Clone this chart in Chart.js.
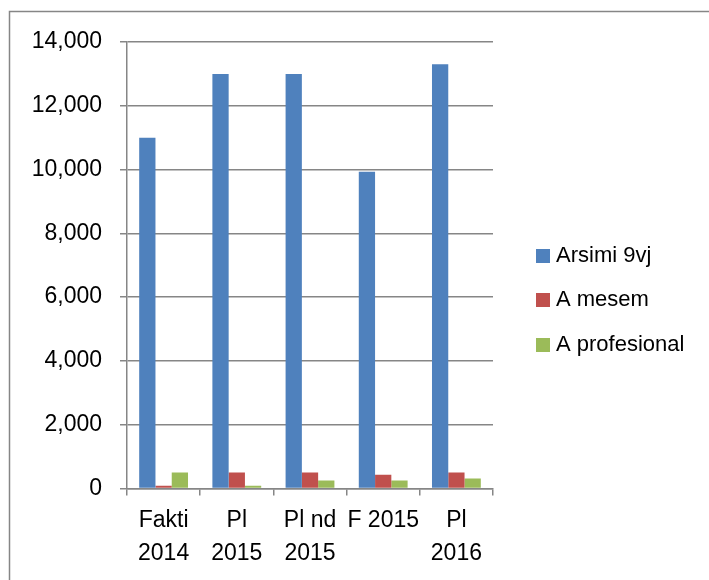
<!DOCTYPE html>
<html>
<head>
<meta charset="utf-8">
<script src="https://cdn.jsdelivr.net/npm/chart.js@4"></script>
<style>
  body { margin: 0; background: #fff; }
  canvas { display: block; }
</style>
</head>
<body>
<canvas id="BarChart" width="709" height="580"></canvas>
<script>
// Categories and series
var categories = [['Fakti', '2014'], ['Pl', '2015'], ['Pl nd', '2015'], ['F 2015'], ['Pl', '2016']];
var seriesNames = ['Arsimi 9vj', 'A mesem', 'A profesional'];
var arsimi9vj = [11000, 13000, 13000, 9930, 13300];
var aMesem = [90, 500, 500, 430, 500];
var aProfesional = [500, 90, 250, 250, 310];
var yTicks = [0, 2000, 4000, 6000, 8000, 10000, 12000, 14000];

var colors = ['#4F81BD', '#C0504D', '#9BBB59'];
var gridColor = '#868686';
var fontFamily = "'Liberation Sans', Arial, sans-serif";

// Frame around the chart and white background
var framePlugin = {
    id: 'frame',
    beforeDraw: function(chart) {
        var c = chart.ctx;
        c.save();
        c.fillStyle = '#fff';
        c.fillRect(0, 0, chart.width, chart.height);
        c.strokeStyle = gridColor;
        c.lineWidth = 1.5;
        c.strokeRect(9.5, 11.5, 900, 900);
        c.restore();
    }
};

// Legend on the right, one row per dataset
var legendPlugin = {
    id: 'sideLegend',
    afterDraw: function(chart) {
        var c = chart.ctx;
        var rows = [256, 300, 345];
        c.save();
        c.font = '22px ' + fontFamily;
        c.textBaseline = 'middle';
        c.textAlign = 'left';
        chart.data.datasets.forEach(function(ds, i) {
            var y = rows[i];
            c.fillStyle = ds.backgroundColor;
            c.fillRect(536, y - 7, 14, 14);
            c.fillStyle = '#000';
            c.fillText(ds.label, 556, y);
        });
        c.restore();
    }
};

var barCtx = document.getElementById('BarChart').getContext('2d');
var myBarChart = new Chart(barCtx, {
    type: 'bar',
    data: {
        labels: categories,
        datasets: [{
            label: seriesNames[0],
            data: arsimi9vj,
            backgroundColor: colors[0]
        }, {
            label: seriesNames[1],
            data: aMesem,
            backgroundColor: colors[1]
        }, {
            label: seriesNames[2],
            data: aProfesional,
            backgroundColor: colors[2]
        }]
    },
    options: {
        responsive: false,
        animation: false,
        categoryPercentage: 0.667,
        barPercentage: 1,
        layout: {
            padding: { top: 42, right: 216, bottom: 0, left: 0 }
        },
        plugins: {
            legend: { display: false },
            tooltip: { enabled: false }
        },
        scales: {
            x: {
                grid: {
                    drawOnChartArea: false,
                    drawTicks: true,
                    tickLength: 7,
                    color: gridColor,
                    lineWidth: 1.5
                },
                border: { color: gridColor, width: 1.5 },
                ticks: {
                    color: '#000',
                    padding: 9,
                    autoSkip: false,
                    maxRotation: 0,
                    font: { family: fontFamily, size: 23, lineHeight: 1.43 }
                },
                afterFit: function(scale) { scale.height = 91.5; }
            },
            y: {
                min: 0,
                max: 14000,
                afterBuildTicks: function(scale) {
                    scale.ticks = yTicks.map(function(v) { return { value: v }; });
                },
                grid: {
                    color: gridColor,
                    lineWidth: 1.5,
                    tickLength: 7
                },
                border: { color: gridColor, width: 1.5 },
                ticks: {
                    color: '#000',
                    padding: 18,
                    font: { family: fontFamily, size: 23 },
                    callback: function(v) { return v.toLocaleString('en-US'); }
                },
                afterFit: function(scale) { scale.width = 127; }
            }
        }
    },
    plugins: [framePlugin, legendPlugin]
});
</script>
</body>
</html>
